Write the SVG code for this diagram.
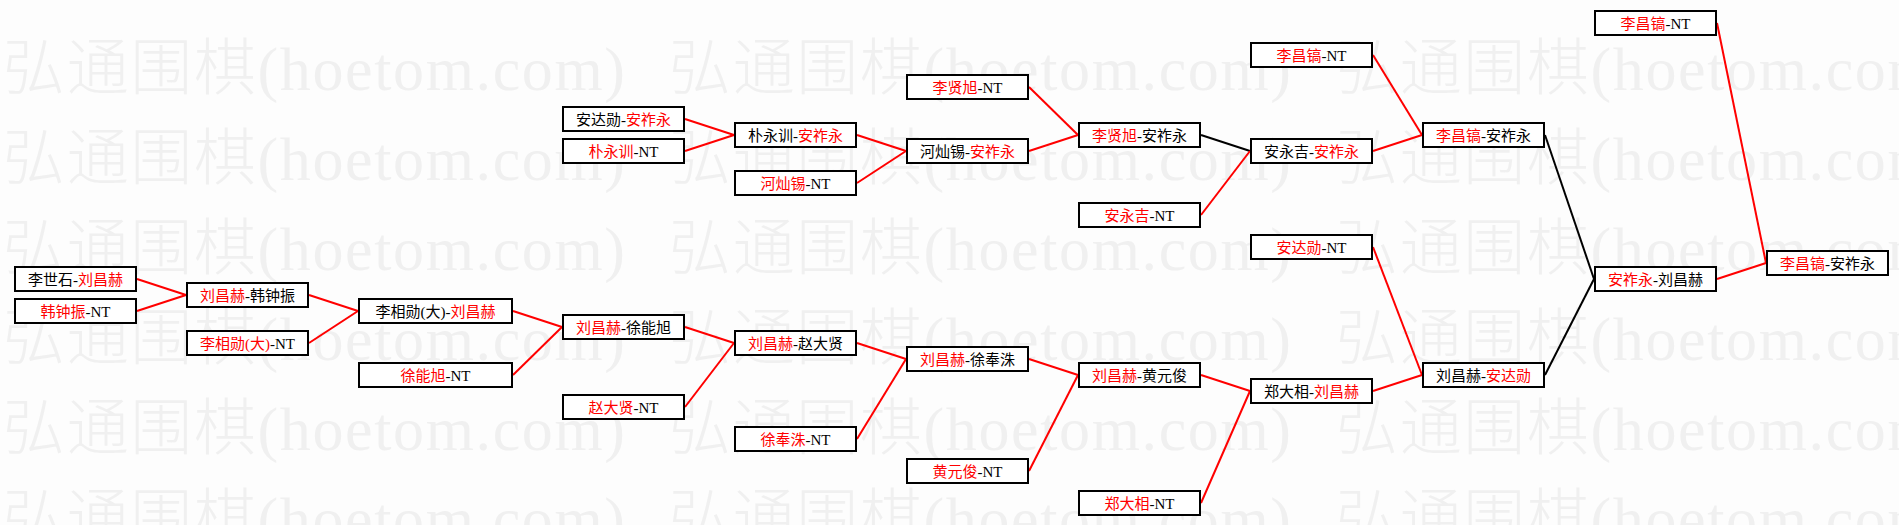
<svg xmlns="http://www.w3.org/2000/svg" width="1899" height="525" viewBox="0 0 1899 525">
<style>
.wm{font-family:"Liberation Serif","Noto Sans CJK SC",serif;font-size:62px;font-weight:300;fill:#f0f0f0}
.box{fill:#fff;stroke:#000;stroke-width:2}
.t{font-family:"Liberation Serif","Noto Sans CJK SC",serif;font-size:15px;fill:#000;text-anchor:middle}
.r{fill:#f00}
.lr{stroke:#f00;stroke-width:2;fill:none}
.lb{stroke:#000;stroke-width:2;fill:none}
</style>
<rect width="1899" height="525" fill="#fdfdfd"/>
<g id="watermark">
<text class="wm" x="3" y="90" textLength="622" lengthAdjust="spacing">弘通围棋(hoetom.com)</text>
<text class="wm" x="669" y="90" textLength="622" lengthAdjust="spacing">弘通围棋(hoetom.com)</text>
<text class="wm" x="1336" y="90" textLength="622" lengthAdjust="spacing">弘通围棋(hoetom.com)</text>
<text class="wm" x="3" y="180" textLength="622" lengthAdjust="spacing">弘通围棋(hoetom.com)</text>
<text class="wm" x="669" y="180" textLength="622" lengthAdjust="spacing">弘通围棋(hoetom.com)</text>
<text class="wm" x="1336" y="180" textLength="622" lengthAdjust="spacing">弘通围棋(hoetom.com)</text>
<text class="wm" x="3" y="270" textLength="622" lengthAdjust="spacing">弘通围棋(hoetom.com)</text>
<text class="wm" x="669" y="270" textLength="622" lengthAdjust="spacing">弘通围棋(hoetom.com)</text>
<text class="wm" x="1336" y="270" textLength="622" lengthAdjust="spacing">弘通围棋(hoetom.com)</text>
<text class="wm" x="3" y="360" textLength="622" lengthAdjust="spacing">弘通围棋(hoetom.com)</text>
<text class="wm" x="669" y="360" textLength="622" lengthAdjust="spacing">弘通围棋(hoetom.com)</text>
<text class="wm" x="1336" y="360" textLength="622" lengthAdjust="spacing">弘通围棋(hoetom.com)</text>
<text class="wm" x="3" y="450" textLength="622" lengthAdjust="spacing">弘通围棋(hoetom.com)</text>
<text class="wm" x="669" y="450" textLength="622" lengthAdjust="spacing">弘通围棋(hoetom.com)</text>
<text class="wm" x="1336" y="450" textLength="622" lengthAdjust="spacing">弘通围棋(hoetom.com)</text>
<text class="wm" x="3" y="540" textLength="622" lengthAdjust="spacing">弘通围棋(hoetom.com)</text>
<text class="wm" x="669" y="540" textLength="622" lengthAdjust="spacing">弘通围棋(hoetom.com)</text>
<text class="wm" x="1336" y="540" textLength="622" lengthAdjust="spacing">弘通围棋(hoetom.com)</text>
</g>
<g id="connectors">
<path class="lr" d="M137 279L186 295"/>
<path class="lr" d="M137 311L186 295"/>
<path class="lr" d="M309 295L358 311"/>
<path class="lr" d="M309 343L358 311"/>
<path class="lr" d="M513 311L562 327"/>
<path class="lr" d="M513 375L562 327"/>
<path class="lr" d="M685 119L734 135"/>
<path class="lr" d="M685 151L734 135"/>
<path class="lr" d="M685 327L734 343"/>
<path class="lr" d="M685 407L734 343"/>
<path class="lr" d="M857 135L906 151"/>
<path class="lr" d="M857 183L906 151"/>
<path class="lr" d="M857 343L906 359"/>
<path class="lr" d="M857 439L906 359"/>
<path class="lr" d="M1029 87L1078 135"/>
<path class="lr" d="M1029 151L1078 135"/>
<path class="lr" d="M1029 359L1078 375"/>
<path class="lr" d="M1029 471L1078 375"/>
<path class="lb" d="M1201 135L1250 151"/>
<path class="lr" d="M1201 215L1250 151"/>
<path class="lr" d="M1201 375L1250 391"/>
<path class="lr" d="M1201 503L1250 391"/>
<path class="lr" d="M1373 55L1422 135"/>
<path class="lr" d="M1373 151L1422 135"/>
<path class="lr" d="M1373 247L1422 375"/>
<path class="lr" d="M1373 391L1422 375"/>
<path class="lb" d="M1545 135L1594 279"/>
<path class="lb" d="M1545 375L1594 279"/>
<path class="lr" d="M1717 23L1766 263"/>
<path class="lr" d="M1717 279L1766 263"/>
</g>
<g id="n1"><rect class="box" x="15" y="267" width="121" height="24"/><text class="t" x="75.5" y="285">李世石-<tspan class="r">刘昌赫</tspan></text></g>
<g id="n2"><rect class="box" x="15" y="299" width="121" height="24"/><text class="t" x="75.5" y="317"><tspan class="r">韩钟振</tspan>-NT</text></g>
<g id="n3"><rect class="box" x="187" y="283" width="121" height="24"/><text class="t" x="247.5" y="301"><tspan class="r">刘昌赫</tspan>-韩钟振</text></g>
<g id="n4"><rect class="box" x="187" y="331" width="121" height="24"/><text class="t" x="247.5" y="349"><tspan class="r">李相勋(大)</tspan>-NT</text></g>
<g id="n5"><rect class="box" x="359" y="299" width="153" height="24"/><text class="t" x="435.5" y="317">李相勋(大)-<tspan class="r">刘昌赫</tspan></text></g>
<g id="n6"><rect class="box" x="359" y="363" width="153" height="24"/><text class="t" x="435.5" y="381"><tspan class="r">徐能旭</tspan>-NT</text></g>
<g id="n7"><rect class="box" x="563" y="107" width="121" height="24"/><text class="t" x="623.5" y="125">安达勋-<tspan class="r">安祚永</tspan></text></g>
<g id="n8"><rect class="box" x="563" y="139" width="121" height="24"/><text class="t" x="623.5" y="157"><tspan class="r">朴永训</tspan>-NT</text></g>
<g id="n9"><rect class="box" x="563" y="315" width="121" height="24"/><text class="t" x="623.5" y="333"><tspan class="r">刘昌赫</tspan>-徐能旭</text></g>
<g id="n10"><rect class="box" x="563" y="395" width="121" height="24"/><text class="t" x="623.5" y="413"><tspan class="r">赵大贤</tspan>-NT</text></g>
<g id="n11"><rect class="box" x="735" y="123" width="121" height="24"/><text class="t" x="795.5" y="141">朴永训-<tspan class="r">安祚永</tspan></text></g>
<g id="n12"><rect class="box" x="735" y="171" width="121" height="24"/><text class="t" x="795.5" y="189"><tspan class="r">河灿锡</tspan>-NT</text></g>
<g id="n13"><rect class="box" x="735" y="331" width="121" height="24"/><text class="t" x="795.5" y="349"><tspan class="r">刘昌赫</tspan>-赵大贤</text></g>
<g id="n14"><rect class="box" x="735" y="427" width="121" height="24"/><text class="t" x="795.5" y="445"><tspan class="r">徐奉洙</tspan>-NT</text></g>
<g id="n15"><rect class="box" x="907" y="75" width="121" height="24"/><text class="t" x="967.5" y="93"><tspan class="r">李贤旭</tspan>-NT</text></g>
<g id="n16"><rect class="box" x="907" y="139" width="121" height="24"/><text class="t" x="967.5" y="157">河灿锡-<tspan class="r">安祚永</tspan></text></g>
<g id="n17"><rect class="box" x="907" y="347" width="121" height="24"/><text class="t" x="967.5" y="365"><tspan class="r">刘昌赫</tspan>-徐奉洙</text></g>
<g id="n18"><rect class="box" x="907" y="459" width="121" height="24"/><text class="t" x="967.5" y="477"><tspan class="r">黄元俊</tspan>-NT</text></g>
<g id="n19"><rect class="box" x="1079" y="123" width="121" height="24"/><text class="t" x="1139.5" y="141"><tspan class="r">李贤旭</tspan>-安祚永</text></g>
<g id="n20"><rect class="box" x="1079" y="203" width="121" height="24"/><text class="t" x="1139.5" y="221"><tspan class="r">安永吉</tspan>-NT</text></g>
<g id="n21"><rect class="box" x="1079" y="363" width="121" height="24"/><text class="t" x="1139.5" y="381"><tspan class="r">刘昌赫</tspan>-黄元俊</text></g>
<g id="n22"><rect class="box" x="1079" y="491" width="121" height="24"/><text class="t" x="1139.5" y="509"><tspan class="r">郑大相</tspan>-NT</text></g>
<g id="n23"><rect class="box" x="1251" y="43" width="121" height="24"/><text class="t" x="1311.5" y="61"><tspan class="r">李昌镐</tspan>-NT</text></g>
<g id="n24"><rect class="box" x="1251" y="139" width="121" height="24"/><text class="t" x="1311.5" y="157">安永吉-<tspan class="r">安祚永</tspan></text></g>
<g id="n25"><rect class="box" x="1251" y="235" width="121" height="24"/><text class="t" x="1311.5" y="253"><tspan class="r">安达勋</tspan>-NT</text></g>
<g id="n26"><rect class="box" x="1251" y="379" width="121" height="24"/><text class="t" x="1311.5" y="397">郑大相-<tspan class="r">刘昌赫</tspan></text></g>
<g id="n27"><rect class="box" x="1423" y="123" width="121" height="24"/><text class="t" x="1483.5" y="141"><tspan class="r">李昌镐</tspan>-安祚永</text></g>
<g id="n28"><rect class="box" x="1423" y="363" width="121" height="24"/><text class="t" x="1483.5" y="381">刘昌赫-<tspan class="r">安达勋</tspan></text></g>
<g id="n29"><rect class="box" x="1595" y="11" width="121" height="24"/><text class="t" x="1655.5" y="29"><tspan class="r">李昌镐</tspan>-NT</text></g>
<g id="n30"><rect class="box" x="1595" y="267" width="121" height="24"/><text class="t" x="1655.5" y="285"><tspan class="r">安祚永</tspan>-刘昌赫</text></g>
<g id="n31"><rect class="box" x="1767" y="251" width="121" height="24"/><text class="t" x="1827.5" y="269"><tspan class="r">李昌镐</tspan>-安祚永</text></g>
</svg>
